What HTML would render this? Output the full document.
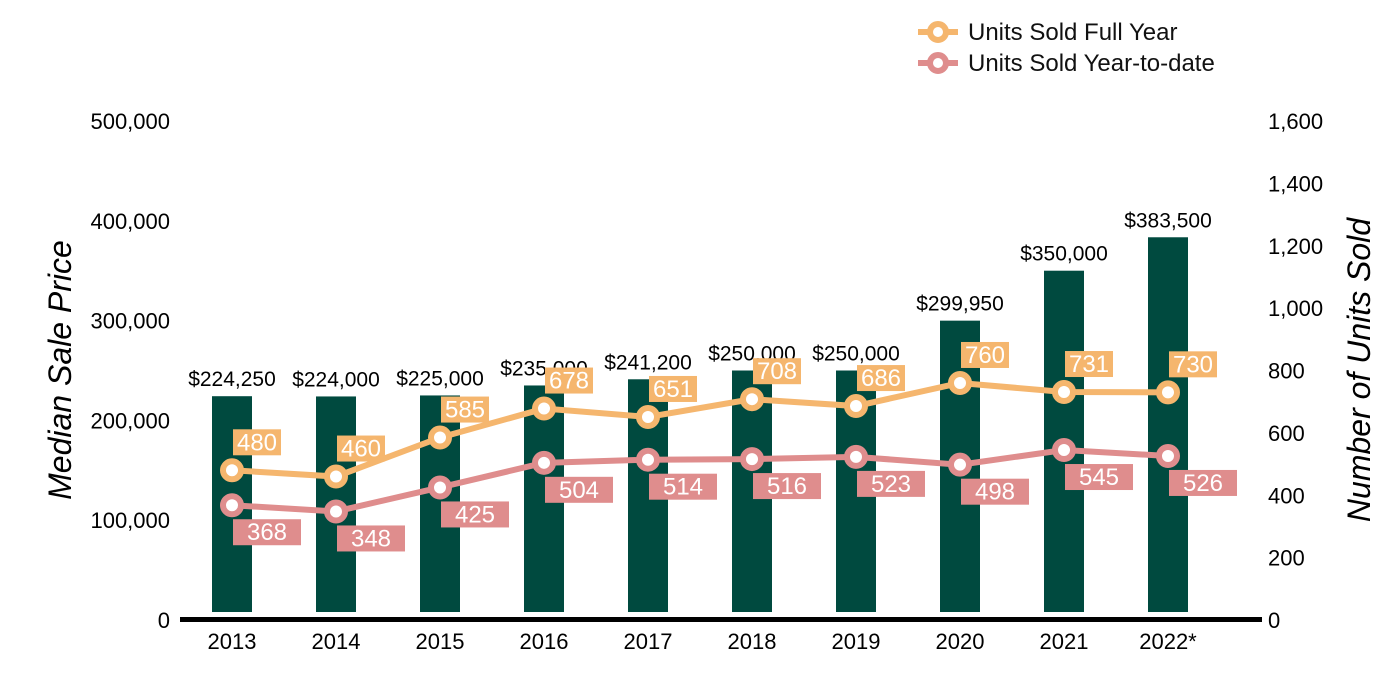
<!DOCTYPE html>
<html><head><meta charset="utf-8"><style>
body{margin:0;background:#fff;}
svg{display:block;font-family:"Liberation Sans",Arial,sans-serif;}
</style></head><body>
<svg id="c" width="1400" height="700"></svg>
<script>
const years=["2013","2014","2015","2016","2017","2018","2019","2020","2021","2022*"];
const prices=[224250,224000,225000,235000,241200,250000,250000,299950,350000,383500];
const priceLabels=["$224,250","$224,000","$225,000","$235,000","$241,200","$250,000","$250,000","$299,950","$350,000","$383,500"];
const fullYear=[480,460,585,678,651,708,686,760,731,730];
const ytd=[368,348,425,504,514,516,523,498,545,526];
const leftTicks=[0,100000,200000,300000,400000,500000];
const rightTicks=[0,200,400,600,800,1000,1200,1400,1600];
const NS="http://www.w3.org/2000/svg";
const svg=document.getElementById('c');
const y0=620,yTop=121;
const yL=v=>y0-(v/500000)*(y0-yTop);
const yR=v=>y0-(v/1600)*(y0-yTop);
const xC=i=>232+i*104;
function el(t,a,txt){const e=document.createElementNS(NS,t);for(const k in a)e.setAttribute(k,a[k]);if(txt!==undefined)e.textContent=txt;svg.appendChild(e);return e;}
leftTicks.forEach(v=>{const t=el('text',{x:170,y:yL(v)+8,'text-anchor':'end','font-size':22,fill:'#000'},v.toLocaleString('en-US'));

});
rightTicks.forEach(v=>{const t=el('text',{x:1268,y:yR(v)+8,'text-anchor':'start','font-size':22,fill:'#000'},v.toLocaleString('en-US'));

});
let t=el('text',{x:71,y:370,'text-anchor':'middle','font-size':32,'font-style':'italic',transform:'rotate(-90 71 370)'},'Median Sale Price');


t=el('text',{x:1370,y:370,'text-anchor':'middle','font-size':32,'font-style':'italic',transform:'rotate(-90 1370 370)'},'Number of Units Sold');


prices.forEach((p,i)=>{const b=el('rect',{x:xC(i)-20,y:yL(p),width:40,height:612-yL(p),fill:'#004a3f'});


const l=el('text',{x:xC(i),y:yL(p)-10,'text-anchor':'middle','font-size':21},priceLabels[i]);


const xl=el('text',{x:xC(i),y:649,'text-anchor':'middle','font-size':22},years[i]);

});
const ax=el('rect',{x:180,y:617,width:1082,height:5,fill:'#000'});


function series(vals,color,name,above){
const pl=el('polyline',{points:vals.map((v,i)=>xC(i)+','+yR(v)).join(' '),fill:'none',stroke:color,'stroke-width':6});


vals.forEach((v,i)=>{const c=el('circle',{cx:xC(i),cy:yR(v),r:9,fill:'#fff',stroke:color,'stroke-width':6});


const w=above?48:68,h=26,bx=xC(i)+1,by=above?yR(v)-41:yR(v)+14;
const r=el('rect',{x:bx,y:by,width:w,height:h,fill:color});


const tx=el('text',{x:bx+w/2,y:by+21,'text-anchor':'middle','font-size':24,fill:'#fff'},String(v));

});}
series(fullYear,'#f5b66e','full-year',true);
series(ytd,'#df8d8d','ytd',false);
[['Units Sold Full Year','#f5b66e',32],['Units Sold Year-to-date','#df8d8d',63]].forEach(([n,c,y])=>{
const ln=el('line',{x1:918,y1:y,x2:958,y2:y,stroke:c,'stroke-width':6});


const ci=el('circle',{cx:938,cy:y,r:8,fill:'#fff',stroke:c,'stroke-width':6});


const tx=el('text',{x:968,y:y+8,'font-size':24,fill:'#111'},n);

});
</script>
</body></html>
